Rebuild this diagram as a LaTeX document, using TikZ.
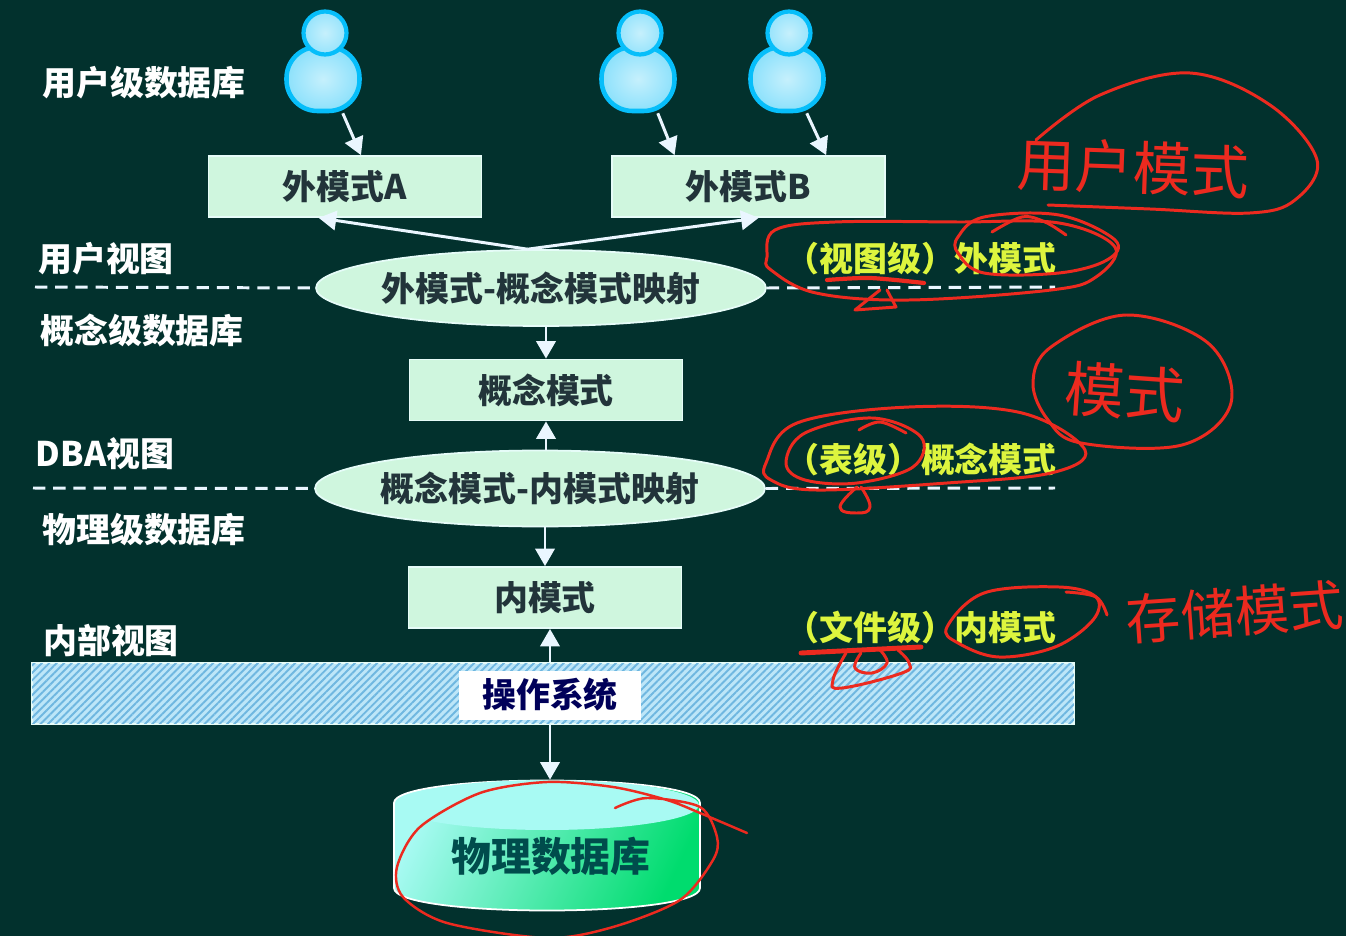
\documentclass[tikz,border=0pt]{standalone}
\usepackage{fontspec}
\setmainfont{Noto Sans CJK SC}
\usepackage{tikz}
\usetikzlibrary{arrows.meta,shapes.geometric,patterns.meta}
\definecolor{boardbg}{HTML}{02312D}
\definecolor{mintbox}{HTML}{CFF6DE}
\definecolor{mintedge}{HTML}{E6FCF8}
\definecolor{boxtext}{HTML}{22343A}
\definecolor{flowwhite}{HTML}{EAF6FF}
\definecolor{yellowtext}{HTML}{DDF53E}
\definecolor{inkred}{HTML}{EC2A1F}
\definecolor{barblue}{HTML}{BDE6F8}
\definecolor{hatchblue}{HTML}{6FB7E0}
\definecolor{userglow}{HTML}{06BEFA}
\definecolor{userpale}{HTML}{C6F0FC}
\definecolor{dbpale}{HTML}{A8FAF3}
\definecolor{dbmid}{HTML}{5CF5DE}
\definecolor{dbgreen}{HTML}{00DC6E}
\tikzset{
  >={Triangle[length=10pt,width=11pt]},
  levellabel/.style={text=white,font=\fontsize{19.3}{22}\selectfont\bfseries,inner sep=0pt},
  notelabel/.style={text=yellowtext,font=\fontsize{19.3}{22}\selectfont\bfseries,inner sep=0pt},
  schemabox/.style={draw=mintedge,line width=1pt,fill=mintbox,text=boxtext,minimum width=5.46cm,minimum height=1.22cm,font=\fontsize{19.3}{22}\selectfont\bfseries,inner sep=0pt},
  mapellipse/.style={ellipse,draw=mintedge,line width=1pt,fill=mintbox,text=boxtext,minimum width=8.98cm,minimum height=1.52cm,font=\fontsize{19.3}{22}\selectfont\bfseries,inner sep=0pt},
  userbody/.style={rounded corners=0.62cm,draw=userglow,line width=2.6pt,inner color=userpale,outer color=userpale!70!userglow,minimum width=1.46cm,minimum height=1.28cm,inner sep=0pt},
  userhead/.style={circle,draw=userglow,line width=2.4pt,inner color=userpale,outer color=userpale!75!userglow,minimum size=0.86cm,inner sep=0pt},
  flow/.style={->,flowwhite,line width=1.7pt},
  splitline/.style={flowwhite,line width=1.7pt,dash pattern=on 7pt off 4.5pt},
  ink/.style={inkred,line width=1.7pt,line cap=round,line join=round},
  inktext/.style={text=inkred,inner sep=0pt}
}
\begin{document}
\begin{tikzpicture}[x=0.02cm,y=-0.02cm]
\useasboundingbox[fill=boardbg] (0,0) rectangle (1346,936);

% users
\node[userbody] (userA) at (323,79) {};
\node[userhead] (headA) at (325,33) {};
\node[userbody] (userB) at (638,79) {};
\node[userhead] (headB) at (640,33) {};
\node[userbody] (userC) at (787,79) {};
\node[userhead] (headC) at (789,33) {};

% left labels
\node[levellabel] (lblUserDb) at (144,83) {用户级数据库};
\node[levellabel] (lblUserView) at (106,259) {用户视图};
\node[levellabel] (lblConceptDb) at (142,330) {概念级数据库};
\node[levellabel] (lblDbaView) at (105,454) {DBA视图};
\node[levellabel] (lblPhysDb) at (144,530) {物理级数据库};
\node[levellabel] (lblInnerView) at (111,640) {内部视图};

% schema boxes and mappings
\node[schemabox] (boxA) at (345,186.5) {外模式A};
\node[schemabox] (boxB) at (748.5,186.5) {外模式B};
\node[mapellipse] (mapOuter) at (541,288) {外模式-概念模式映射};
\node[schemabox] (boxConcept) at (546,390) {概念模式};
\node[mapellipse] (mapInner) at (540,488.5) {概念模式-内模式映射};
\node[schemabox] (boxInner) at (545,597.5) {内模式};

% operating system bar
\node[rectangle,draw=mintedge,line width=1pt,fill=barblue,postaction={pattern={Lines[angle=45,distance=3pt,line width=1.1pt]},pattern color=hatchblue},minimum width=20.84cm,minimum height=1.22cm] (osBar) at (553,693.5) {};
\node[rectangle,fill=white,text=blue!35!black,minimum width=3.64cm,minimum height=0.98cm,font=\fontsize{19.3}{22}\selectfont\bfseries,inner sep=0pt] (osBox) at (550,695) {操作系统};

% physical database
\path[draw=white,line width=1pt,left color=dbpale,middle color=dbmid,right color=dbgreen,shading angle=65] (394,803) -- (394,888) .. controls (394,918) and (700,918) .. (700,888) -- (700,803) .. controls (700,773) and (394,773) .. (394,803) -- cycle;
\node[ellipse,fill=dbpale,minimum width=6.08cm,minimum height=1cm,inner sep=0pt] (dbTop) at (547,805) {};
\node[text=teal!60!black,font=\fontsize{22.7}{26}\selectfont\bfseries,inner sep=0pt] (dbLabel) at (551,856) {物理数据库};

% dashed level lines
\coordinate (dashOuterL) at (35,287);
\coordinate (dashOuterR) at (1055,287);
\coordinate (dashInnerL) at (33,488);
\coordinate (dashInnerR) at (1055,488);
\draw[splitline] (dashOuterL) -- (mapOuter.west);
\draw[splitline] (mapOuter.east) -- (dashOuterR);
\draw[splitline] (dashInnerL) -- (mapInner.west);
\draw[splitline] (mapInner.east) -- (dashInnerR);

% arrows
\draw[flow] (userA.-60) -- (boxA.63);
\draw[flow] (userB.-60) -- (boxB.157);
\draw[flow] (userC.-60) -- (boxB.22);
\draw[flow] (mapOuter.109) -- (boxA.-130);
\draw[flow] (mapOuter.109) -- (boxB.-72);
\draw[flow] (boxConcept.north |- mapOuter.south) -- (boxConcept.north);
\draw[flow] (boxConcept.south |- mapInner.north) -- (boxConcept.south);
\draw[flow] (boxInner.north |- mapInner.south) -- (boxInner.north);
\draw[flow] (osBox.north |- osBar.north) -- (osBox.north |- boxInner.south);
\draw[flow] (osBox.south |- osBar.south) -- (osBox.south |- dbTop.north);

% notes
\node[notelabel] (noteView) at (921,259) {（视图级）外模式};
\node[notelabel] (noteTable) at (921,459) {（表级）概念模式};
\node[notelabel] (noteFile) at (921,628) {（文件级）内模式};

% handwriting
\node[inktext,font=\fontsize{33}{36}\selectfont,rotate=-2] (inkUser) at (1133,168) {用户模式};
\node[inktext,font=\fontsize{34}{36}\selectfont,rotate=-4] (inkSchema) at (1125,392) {模式};
\node[inktext,font=\fontsize{31}{34}\selectfont,rotate=4] (inkStore) at (1235,612) {存储模式};

\draw[ink] plot[smooth,tension=0.6] coordinates {(1036,140) (1100,95) (1190,73) (1270,105) (1317,160) (1295,200) (1250,213) (1150,209) (1048,205)};
\draw[ink] plot[smooth cycle,tension=0.6] coordinates {(767,257) (775,230) (835,222) (958,222) (1059,223) (1115,247) (1096,277) (1051,290) (909,300) (816,293) (771,270)};
\draw[ink] plot[smooth cycle,tension=0.6] coordinates {(958,237) (984,217) (1059,215) (1115,240) (1107,260) (1059,273) (984,273) (958,253)};
\draw[ink] plot[smooth,tension=0.6] coordinates {(992,232) (1022,217) (1045,222) (1066,235)};
\draw[ink,line width=2.4pt] plot[smooth] coordinates {(827,280) (870,278) (924,283)};
\draw[ink] (880,290) -- (855,310) -- (896,307) -- (887,290);

\draw[ink] plot[smooth cycle,tension=0.6] coordinates {(1081,443) (1182,445) (1231,403) (1208,343) (1126,315) (1051,347) (1033,383) (1048,420)};
\draw[ink] plot[smooth cycle,tension=0.6] coordinates {(766,463) (797,423) (909,407) (1022,413) (1085,450) (1051,473) (947,483) (816,490) (771,480)};
\draw[ink] plot[smooth cycle,tension=0.6] coordinates {(786,463) (805,433) (872,418) (921,437) (913,467) (857,483) (805,480)};
\draw[ink] plot[smooth,tension=0.8] coordinates {(857,487) (840,507) (857,513) (870,507) (861,487)};
\draw[ink] plot[smooth,tension=0.6] coordinates {(859,430) (880,422) (906,433)};

\draw[ink] plot[smooth cycle,tension=0.6] coordinates {(947,627) (984,593) (1059,587) (1096,597) (1093,620) (1055,647) (999,657) (958,643)};
\draw[ink] plot[smooth,tension=0.6] coordinates {(1066,592) (1096,597) (1107,615)};
\draw[ink,line width=2.8pt] (801,653) -- (921,647);
\draw[ink] plot[smooth,tension=0.7] coordinates {(846,653) (833,680) (842,688) (902,673) (909,663) (898,650)};
\draw[ink] plot[smooth,tension=0.7] coordinates {(861,653) (855,668) (872,673) (887,663) (880,650)};

\draw[ink,line width=1.4pt] plot[smooth,tension=0.5] coordinates {(615,808) (647,798) (700,807) (717,837) (713,860) (680,900) (613,927) (547,938) (447,923) (403,897) (397,867) (420,827) (480,793) (547,782) (613,787) (667,800) (700,813) (747,833)};
\end{tikzpicture}
\end{document}
